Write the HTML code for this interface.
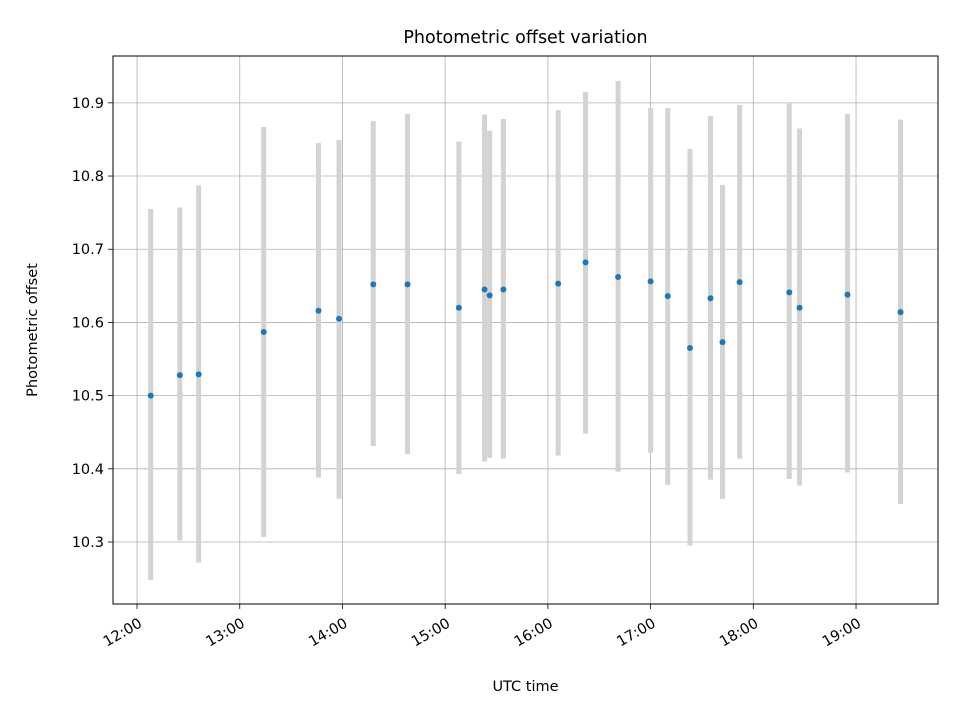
<!DOCTYPE html>
<html><head><meta charset="utf-8"><style>
body{margin:0;background:#fff}
svg{display:block;font-family:"DejaVu Sans","Liberation Sans",sans-serif}
</style></head><body>
<svg id="chart" width="960" height="720" xmlns="http://www.w3.org/2000/svg"></svg>
<script>
const times=["12:08","12:25","12:36","13:14","13:46","13:58","14:18","14:38","15:08","15:23","15:26","15:34","16:06","16:22","16:41","17:00","17:10","17:23","17:35","17:42","17:52","18:21","18:27","18:55","19:26"];
const offsets=[10.500,10.528,10.529,10.587,10.616,10.605,10.652,10.652,10.620,10.645,10.637,10.645,10.653,10.682,10.662,10.656,10.636,10.565,10.633,10.573,10.655,10.641,10.620,10.638,10.614];
const errHigh=[10.755,10.757,10.787,10.867,10.845,10.849,10.875,10.885,10.847,10.884,10.862,10.878,10.890,10.915,10.930,10.893,10.893,10.837,10.882,10.788,10.897,10.899,10.865,10.885,10.877];
const errLow=[10.248,10.302,10.272,10.307,10.388,10.359,10.431,10.420,10.393,10.410,10.415,10.414,10.418,10.448,10.396,10.422,10.378,10.295,10.385,10.359,10.414,10.386,10.377,10.395,10.352];
const xTicks=["12:00","13:00","14:00","15:00","16:00","17:00","18:00","19:00"];
const yTicks=[10.3,10.4,10.5,10.6,10.7,10.8,10.9];

const L=113,R=938,T=56,B=604;
const xMin=11.766,xMax=19.798,yMin=10.2153,yMax=10.964;
const hrs=s=>{const p=s.split(":");return +p[0]+ +p[1]/60;};
const X=h=>L+(h-xMin)/(xMax-xMin)*(R-L);
const Y=v=>B-(v-yMin)/(yMax-yMin)*(B-T);
const svg=document.getElementById('chart');
const NS="http://www.w3.org/2000/svg";
const FF='"DejaVu Sans","Liberation Sans",sans-serif';
function mk(tag,attrs,parent){const e=document.createElementNS(NS,tag);for(const k in attrs)e.setAttribute(k,attrs[k]);(parent||svg).appendChild(e);return e;}

const grid=mk('g',{});


xTicks.forEach(t=>{const x=X(hrs(t));
  const l=mk('line',{x1:x,x2:x,y1:T,y2:B,stroke:'#b0b0b0','stroke-width':0.8},grid);
  
  
  const tk=mk('line',{x1:x,x2:x,y1:B,y2:B+5,stroke:'#000','stroke-width':0.8});
  
  
  const tx=mk('text',{x:0,y:0,'font-size':14.5,'font-family':FF,'text-anchor':'end',transform:`translate(${x+6},${B+22}) rotate(-30)`});
  
  
  tx.textContent=t;
});
yTicks.forEach(v=>{const y=Y(v);
  const l=mk('line',{x1:L,x2:R,y1:y,y2:y,stroke:'#b0b0b0','stroke-width':0.8},grid);
  
  
  const tk=mk('line',{x1:L-5,x2:L,y1:y,y2:y,stroke:'#000','stroke-width':0.8});
  
  
  const tx=mk('text',{x:L-9,y:y+5,'font-size':14.5,'font-family':FF,'text-anchor':'end'});
  
  
  tx.textContent=v.toFixed(1);
});
const eg=mk('g',{});


times.forEach((t,i)=>{const x=X(hrs(t));
  const e=mk('line',{x1:x,x2:x,y1:Y(errHigh[i]),y2:Y(errLow[i]),stroke:'#d3d3d3','stroke-width':5},eg);
  
  
});
const pg=mk('g',{});


times.forEach((t,i)=>{
  const c=mk('circle',{cx:X(hrs(t)),cy:Y(offsets[i]),r:3,fill:'#1f77b4'},pg);
  
  
});
const fr=mk('rect',{x:L,y:T,width:R-L,height:B-T,fill:'none',stroke:'#000','stroke-width':1});


const ti=mk('text',{x:(L+R)/2,y:43,'font-size':17.5,'font-family':FF,'text-anchor':'middle'});


ti.textContent='Photometric offset variation';
const xl=mk('text',{x:(L+R)/2,y:691,'font-size':14.5,'font-family':FF,'text-anchor':'middle'});


xl.textContent='UTC time';
const yl=mk('text',{x:0,y:0,'font-size':14.5,'font-family':FF,'text-anchor':'middle',transform:`translate(37,${(T+B)/2}) rotate(-90)`});


yl.textContent='Photometric offset';
</script>
</body></html>
